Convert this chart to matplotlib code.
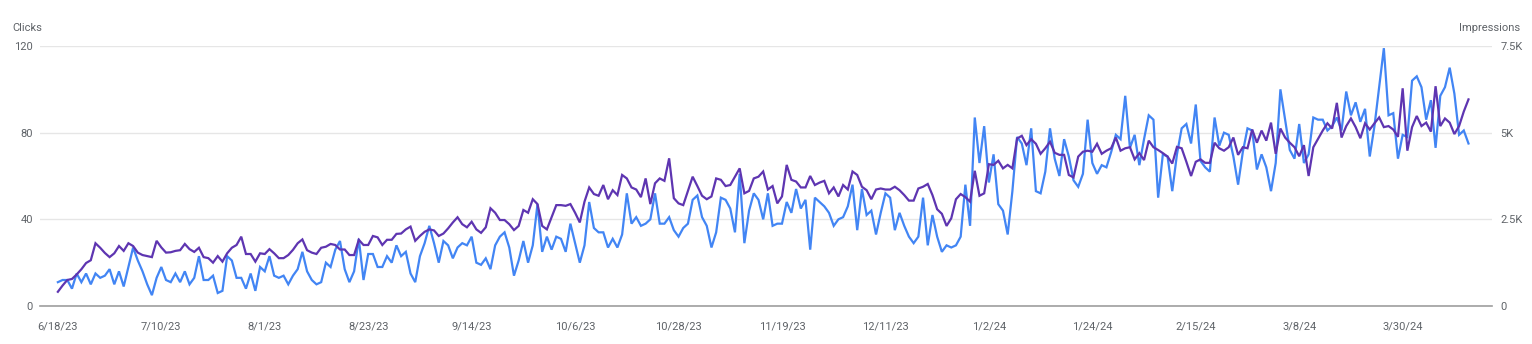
import numpy as np
import pandas as pd
import matplotlib
matplotlib.use('Agg')
import matplotlib.pyplot as plt
from matplotlib.ticker import FixedLocator

plt.rcParams['font.family'] = ['Roboto', 'DejaVu Sans']

# ── Data (daily, 6/18/23 .. 4/13/24) ─────────────────────────────────────────
start_date = '2023-06-18'

clicks = [
    11, 12, 12, 8, 15, 11, 15, 10, 15, 13, 14, 17, 10, 16, 9, 18, 27, 21, 16, 10,
    5, 13, 18, 12, 11, 15, 11, 16, 10, 13, 23, 12, 12, 14, 6, 7, 23, 21, 13, 13,
    8, 15, 7, 18, 16, 23, 14, 13, 14, 10, 14, 17, 25, 16, 12, 10, 11, 20, 18, 26,
    30, 17, 11, 16, 31, 12, 24, 24, 18, 18, 23, 20, 28, 23, 25, 15, 11, 23, 29, 37,
    29, 20, 30, 28, 22, 27, 29, 28, 32, 20, 19, 22, 17, 28, 32, 34, 27, 14, 21, 30,
    20, 28, 47, 25, 32, 26, 32, 31, 25, 38, 29, 20, 28, 48, 36, 34, 34, 27, 31, 27,
    33, 52, 38, 41, 37, 38, 40, 52, 38, 38, 41, 35, 32, 36, 38, 49, 51, 41, 37, 27,
    34, 50, 49, 45, 34, 61, 29, 44, 52, 49, 40, 52, 37, 38, 38, 48, 43, 54, 45, 49,
    26, 50, 48, 46, 43, 37, 40, 41, 46, 56, 35, 54, 42, 44, 33, 43, 52, 50, 35, 43,
    37, 32, 29, 32, 50, 28, 42, 32, 25, 28, 27, 28, 32, 56, 37, 87, 66, 83, 57, 70,
    47, 44, 33, 53, 78, 75, 65, 82, 53, 52, 62, 82, 68, 60, 77, 69, 58, 55, 61, 86,
    66, 61, 65, 64, 71, 79, 77, 97, 73, 79, 65, 77, 88, 86, 50, 70, 69, 53, 70, 82,
    84, 75, 93, 67, 64, 62, 87, 74, 80, 79, 69, 56, 71, 82, 81, 63, 70, 64, 53, 66,
    100, 86, 72, 68, 84, 66, 70, 87, 86, 86, 81, 83, 87, 81, 99, 88, 94, 85, 91, 69,
    83, 101, 119, 88, 89, 68, 79, 78, 104, 106, 101, 86, 95, 73, 97, 101, 110, 98, 79, 81,
    75,
]

impressions = [
    410, 590, 750, 780, 910, 1060, 1240, 1320, 1810, 1680, 1530, 1410, 1520, 1730, 1590,
    1810, 1730, 1540, 1470, 1440, 1410, 1880, 1690, 1540, 1550, 1590, 1610, 1790, 1640,
    1560, 1680, 1410, 1380, 1250, 1440, 1280, 1520, 1680, 1760, 2000, 1500, 1500, 1280,
    1520, 1500, 1640, 1520, 1380, 1380, 1470, 1620, 1810, 1920, 1610, 1540, 1500, 1680,
    1710, 1790, 1760, 1630, 1630, 1470, 1470, 1910, 1760, 1760, 2020, 1980, 1760, 1910,
    1910, 2080, 2090, 2210, 2290, 1880, 2020, 2140, 2210, 2180, 2020, 2090, 2240, 2410,
    2560, 2360, 2270, 2430, 2210, 2110, 2270, 2820, 2690, 2480, 2480, 2360, 2190, 2310,
    2770, 2690, 3080, 2940, 2310, 2210, 2560, 2910, 2910, 2890, 2940, 2690, 2410, 3010,
    3420, 3230, 3180, 3490, 3080, 3340, 3200, 3780, 3680, 3420, 3360, 3140, 3680, 2940,
    3540, 3680, 3610, 4260, 3110, 2960, 2910, 3320, 3730, 3460, 3180, 3080, 3160, 3680,
    3640, 3460, 3490, 3730, 3970, 3250, 3320, 3680, 3730, 3880, 3360, 3460, 2960, 3160,
    4070, 3640, 3590, 3420, 3420, 3750, 3490, 3560, 3610, 3250, 3420, 3160, 3490, 3360,
    3880, 3780, 3440, 3340, 3080, 3360, 3390, 3360, 3360, 3440, 3340, 3200, 3040, 3040,
    3390, 3440, 3520, 3200, 2790, 2660, 2310, 2530, 3080, 3230, 3140, 3010, 3900, 3180,
    3250, 4090, 4070, 4190, 3970, 4070, 3970, 4830, 4910, 4640, 4810, 4680, 4390, 4550,
    4740, 4420, 4360, 4360, 3780, 3710, 4310, 4450, 4480, 4450, 4680, 4390, 4480, 4550,
    4860, 4480, 4550, 4580, 4230, 4410, 4210, 4770, 4580, 4500, 4410, 4310, 4110, 4590,
    4550, 4160, 3750, 4160, 4230, 4130, 4130, 4710, 4550, 4480, 4580, 4860, 4360, 4580,
    4550, 5090, 4710, 5060, 4770, 5290, 4390, 5120, 4860, 4710, 4580, 4320, 4640, 3750,
    4580, 4820, 5060, 5270, 5120, 5860, 4860, 5190, 5410, 5160, 4840, 5270, 5090, 5270,
    5440, 5160, 5190, 5090, 4880, 6280, 4480, 5160, 5480, 5190, 5290, 5030, 6340, 5190,
    5410, 5290, 4960, 5190, 5610, 5960,
]

click_ticks = [0, 40, 80, 120]
impr_ticks = [0, 2500, 5000, 7500]
impr_tick_labels = ['0', '2.5K', '5K', '7.5K']

dates = pd.date_range(start_date, periods=len(clicks), freq='D')
tick_dates = pd.date_range(start_date, periods=14, freq='22D')
tick_labels = [f'{d.month}/{d.day}/{d.year % 100}' for d in tick_dates]

# ── Style ─────────────────────────────────────────────────────────────────────
BLUE = '#4285F4'
PURPLE = '#5E35B1'
GRID = '#e6e6e6'
AXIS = '#9e9e9e'
TEXT = '#5f6368'

W, H = 1532, 344
fig = plt.figure(figsize=(W / 100, H / 100), dpi=100)
left, right = 40 / W, 1492 / W
bottom, top = (H - 306) / H, (H - 46) / H
ax = fig.add_axes([left, bottom, right - left, top - bottom])
ax2 = ax.twinx()

ax.plot(dates, clicks, color=BLUE, lw=1.6, solid_joinstyle='miter', zorder=3)
ax2.plot(dates, impressions, color=PURPLE, lw=1.6, solid_joinstyle='miter', zorder=3)

x0 = dates[0] - pd.Timedelta(days=3.8)
x1 = dates[-1] + pd.Timedelta(days=5)
ax.set_xlim(x0, x1)
ax.set_ylim(0, 120)
ax2.set_ylim(0, 7500)

ax.yaxis.set_major_locator(FixedLocator(click_ticks))
ax2.yaxis.set_major_locator(FixedLocator(impr_ticks))
ax2.set_yticklabels(impr_tick_labels)
ax.set_xticks(tick_dates)
ax.set_xticklabels(tick_labels)

ax.grid(axis='y', color=GRID, lw=1)
ax.set_axisbelow(True)

for a in (ax, ax2):
    for side in ('top', 'left', 'right'):
        a.spines[side].set_visible(False)
    a.spines['bottom'].set_visible(False)
    a.tick_params(length=0, labelsize=8, labelcolor=TEXT)
ax.axhline(0, color=AXIS, lw=1.2, zorder=4, clip_on=False)

ax.tick_params(axis='y', pad=5)
ax2.tick_params(axis='y', pad=6)
ax.tick_params(axis='x', pad=11)

fig.text(12 / W, 1 - 28 / H, 'Clicks', fontsize=8, color=TEXT,
         ha='left', va='center')
fig.text(1520 / W, 1 - 28 / H, 'Impressions', fontsize=8, color=TEXT,
         ha='right', va='center')

fig.savefig('out.png', dpi=100)
